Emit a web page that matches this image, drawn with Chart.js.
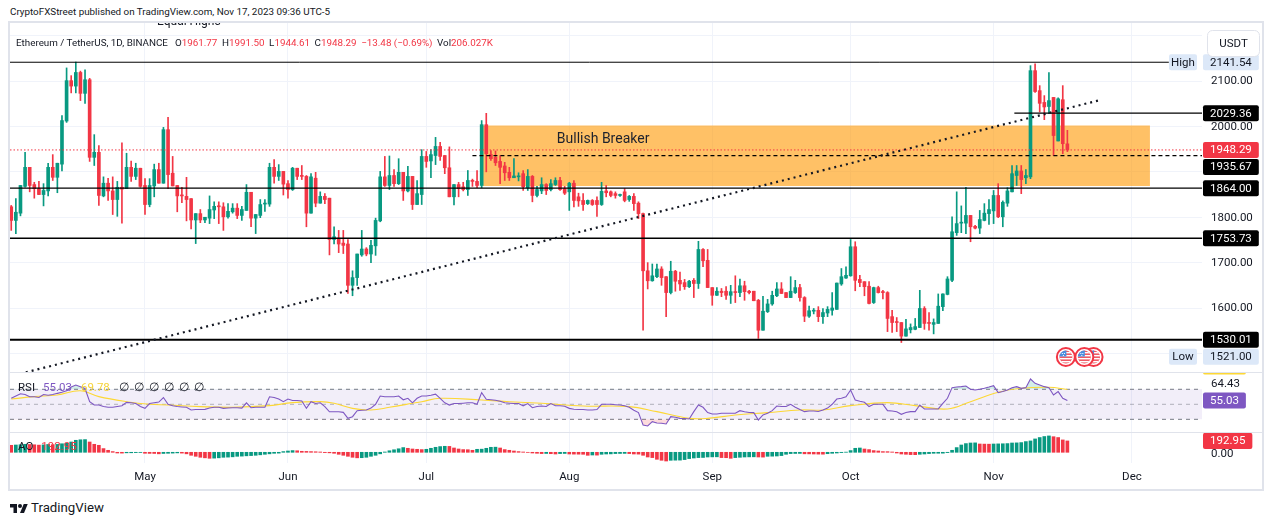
<!DOCTYPE html>
<html>
<head>
<meta charset="utf-8">
<title>Ethereum / TetherUS, 1D</title>
<script src="https://cdn.jsdelivr.net/npm/chart.js@4.4.1/dist/chart.umd.min.js"></script>
<style>
  html, body { margin: 0; padding: 0; background: #fff; }
  body { width: 1273px; height: 526px; position: relative; overflow: hidden; font-family: Roboto, "Noto Sans", sans-serif; color: #131722; }
  .abs { position: absolute; white-space: nowrap; line-height: 1; }
  .mid { transform: translateY(-50%); }
  .pane { position: absolute; left: 10px; width: 1252px; }
  .sep { position: absolute; left: 10px; width: 1252px; height: 1px; background: #E0E3EB; }
  .red { color: #F23645; }
  .leg span.g { margin-left: 4.5px; }
  .leg span.n { margin-left: 5px; }
  .over { z-index: 5; pointer-events: none; }
</style>
</head>
<body>
<div class="abs mid" id="head" style="left:10px;top:12px;font-size:12px">CryptoFXStreet published on TradingView.com, Nov 17, 2023 09:36 UTC-5</div>
<div class="abs" style="left:8px;top:21px;width:1252px;height:466px;border:2px solid #E0E3EB"></div>

<div class="pane" style="top:23px;height:349px"><canvas id="main"></canvas></div>
<div class="sep" style="top:372px"></div>
<div class="pane" style="top:373px;height:59px"><canvas id="rsi"></canvas></div>
<div class="sep" style="top:432px"></div>
<div class="pane" style="top:433px;height:56px"><canvas id="ao"></canvas></div>

<div class="abs over" style="left:157px;top:23px;width:80px;height:5px;overflow:hidden">
  <div class="abs" style="left:0;top:-8px;font-size:12px;color:#131722">Equal Highs</div>
</div>
<div class="abs mid over leg" id="legMain" style="left:16px;top:43px;font-size:12px">
  <span id="sym">Ethereum / TetherUS, 1D, BINANCE</span><span class="g" style="margin-left:7px">O<span class="red">1961.77</span></span><span class="g">H<span class="red">1991.50</span></span><span class="g">L<span class="red">1944.61</span></span><span class="g">C<span class="red">1948.29</span></span><span class="g red">−13.48 (−0.69%)</span><span class="g">Vol<span class="red">206.027K</span></span>
</div>
<div class="abs mid over leg" id="legRsi" style="left:18px;top:388px;font-size:11.5px">
  <span>RSI</span><span class="g" style="margin-left:8px;color:#7E57C2">55.03</span><span class="g" style="margin-left:9px;color:#F5D33A">69.78</span><span class="n" style="margin-left:9px">∅</span><span class="n">∅</span><span class="n">∅</span><span class="n">∅</span><span class="n">∅</span><span class="n">∅</span>
</div>
<div class="abs mid over leg" id="legAo" style="left:18px;top:447px;font-size:11.5px">
  <span>AO</span><span class="g red" style="margin-left:8px">192.95</span>
</div>

<svg class="abs" style="left:10px;top:502px" width="18" height="13" viewBox="0 0 36 26">
  <path d="M14 22H7V11H0V4h14v18z" fill="#131722"/><circle cx="20" cy="8" r="4" fill="#131722"/><path d="M28 22h-8l7.5-18h8L28 22z" fill="#131722"/>
</svg>
<div class="abs mid" id="tv" style="left:31px;top:508px;font-size:13px">TradingView</div>

<script>
// ETH/USDT daily candles, 2 Apr 2023 (index 0) to 17 Nov 2023 (index 229)
const opens = [
  1823,1793,1809,1868,1910,1872,1863,1850,1858,1910, 1888,1917,2012,2101,2089,2119,2073,2103,1932,1943,
  1847,1875,1858,1839,1866,1863,1910,1890,1908,1870, 1828,1869,1905,1875,1993,1897,1870,1848,1846,1841,
  1794,1808,1794,1798,1816,1824,1823,1801,1812,1820, 1804,1815,1855,1798,1804,1829,1829,1910,1890,1901,
  1874,1861,1908,1891,1890,1809,1886,1831,1846,1842, 1751,1754,1743,1741,1650,1667,1717,1730,1719,1737,
  1792,1889,1870,1892,1874,1899,1858,1890,1828,1850, 1934,1924,1936,1956,1936,1909,1845,1872,1867,1861,
  1881,1879,1870,2004,1938,1932,1923,1913,1899,1887, 1889,1896,1865,1890,1848,1858,1872,1861,1872,1881,
  1863,1856,1875,1845,1837,1830,1837,1837,1828,1858, 1856,1852,1848,1856,1839,1846,1831,1808,1682,1660,
  1669,1686,1669,1634,1681,1661,1656,1647,1661,1654, 1729,1705,1645,1628,1637,1637,1628,1636,1634,1649,
  1637,1637,1617,1551,1592,1609,1627,1642,1634,1623, 1634,1645,1623,1582,1593,1595,1581,1589,1595,1597,
  1653,1666,1671,1735,1663,1658,1648,1612,1645,1635, 1634,1581,1570,1568,1538,1552,1553,1557,1599,1568,
  1564,1566,1603,1630,1661,1766,1787,1787,1804,1780, 1776,1793,1808,1814,1848,1801,1831,1856,1892,1902,
  1887,1889,2123,2079,2053,2044,2064,1968,2059,1961.77
];
const highs = [
  1826,1841,1870,1943,1910,1877,1879,1874,1919,1938, 1919,2024,2129,2112,2142,2122,2125,2106,1982,1958,
  1889,1886,1889,1879,1964,1941,1924,1919,1908,1885, 1885,1917,1919,1998,2020,1934,1870,1866,1888,1841,
  1808,1817,1800,1847,1834,1834,1832,1830,1830,1830, 1824,1872,1855,1806,1839,1839,1919,1927,1916,1901,
  1881,1910,1908,1914,1892,1896,1899,1856,1852,1842, 1779,1771,1771,1751,1682,1719,1771,1733,1749,1798,
  1901,1934,1935,1905,1929,1899,1912,1890,1881,1949, 1945,1949,1976,1965,1936,1955,1872,1877,1877,1903,
  1884,1903,2013,2029,1947,1946,1936,1921,1910,1929, 1898,1903,1905,1892,1868,1887,1874,1883,1887,1888,
  1868,1877,1881,1853,1852,1838,1839,1845,1877,1870, 1858,1856,1851,1863,1848,1852,1834,1809,1700,1697,
  1697,1691,1669,1703,1683,1679,1663,1661,1665,1747, 1731,1729,1645,1645,1643,1647,1650,1671,1664,1659,
  1639,1637,1619,1626,1619,1637,1656,1656,1634,1669, 1661,1652,1625,1604,1599,1603,1599,1603,1634,1655,
  1687,1691,1751,1746,1672,1658,1658,1646,1648,1639, 1636,1595,1579,1568,1575,1565,1577,1639,1603,1590,
  1576,1631,1631,1669,1801,1856,1825,1866,1804,1782, 1815,1830,1839,1859,1874,1836,1865,1914,1914,1914,
  1905,2134,2138,2090,2068,2119,2064,2063,2090,1991.50
];
const lows = [
  1771,1764,1803,1866,1856,1842,1850,1825,1847,1881, 1854,1902,2009,2074,2074,2057,2051,1923,1914,1826,
  1845,1837,1806,1802,1787,1863,1879,1883,1866,1806, 1823,1845,1875,1875,1863,1869,1812,1832,1792,1774,
  1742,1788,1788,1786,1797,1786,1771,1798,1809,1797, 1793,1815,1779,1764,1799,1813,1824,1875,1881,1849,
  1842,1859,1883,1883,1779,1809,1823,1831,1830,1717, 1741,1722,1720,1632,1627,1650,1714,1715,1700,1716,
  1790,1868,1861,1868,1872,1837,1856,1817,1828,1828, 1910,1887,1916,1925,1896,1845,1827,1845,1858,1848,
  1868,1865,1865,1900,1925,1914,1874,1881,1881,1887, 1880,1859,1859,1834,1845,1852,1850,1858,1870,1859,
  1850,1815,1823,1824,1815,1828,1826,1802,1826,1845, 1845,1842,1846,1834,1835,1815,1797,1551,1642,1659,
  1667,1650,1581,1631,1637,1639,1641,1645,1623,1643, 1691,1645,1606,1628,1625,1619,1610,1612,1625,1617,
  1631,1616,1533,1551,1590,1606,1625,1632,1623,1623, 1632,1615,1570,1579,1587,1570,1566,1581,1584,1597,
  1650,1665,1670,1638,1647,1627,1609,1610,1633,1620, 1548,1546,1548,1524,1538,1545,1552,1557,1553,1551,
  1543,1566,1594,1629,1658,1760,1766,1764,1746,1774, 1764,1792,1784,1786,1799,1779,1824,1856,1870,1852,
  1874,1885,2075,2032,2015,2028,1936,1968,1940,1944.61
];
const closes = [
  1793,1811,1870,1910,1870,1863,1850,1859,1910,1888, 1919,2013,2101,2089,2119,2073,2103,1932,1943,1848,
  1875,1858,1839,1866,1862,1910,1890,1908,1868,1828, 1870,1905,1875,1993,1894,1869,1847,1847,1839,1794,
  1808,1794,1800,1817,1824,1823,1801,1813,1820,1804, 1817,1855,1798,1806,1828,1830,1910,1890,1901,1873,
  1861,1908,1890,1890,1809,1889,1831,1846,1839,1751, 1757,1741,1738,1650,1667,1719,1730,1719,1738,1793,
  1889,1870,1892,1874,1899,1858,1890,1828,1852,1934, 1923,1938,1956,1934,1909,1845,1872,1863,1861,1881,
  1879,1870,2004,1940,1929,1920,1910,1898,1887,1891, 1890,1867,1890,1848,1861,1872,1859,1874,1881,1861,
  1853,1875,1837,1836,1828,1837,1828,1828,1857,1854, 1848,1848,1850,1837,1846,1830,1808,1682,1660,1671,
  1686,1667,1634,1681,1659,1653,1647,1659,1654,1729, 1704,1645,1628,1637,1634,1628,1636,1634,1649,1636,
  1634,1616,1551,1593,1609,1628,1642,1632,1623,1637, 1645,1623,1582,1594,1595,1581,1590,1597,1600,1655,
  1669,1672,1735,1661,1656,1647,1610,1645,1634,1634, 1577,1568,1568,1538,1554,1557,1559,1599,1566,1566,
  1568,1604,1631,1664,1768,1786,1789,1804,1779,1776, 1795,1809,1817,1848,1801,1833,1858,1896,1902,1883,
  1892,2123,2077,2051,2043,2057,1980,2061,1962,1948.29
];

// RSI (14) per candle, and its moving average read at a few points
const rsiValues = [
  58,61,64,63,60,60,59,63,62,63, 64.6,66,68,73,75.7,73.5,71,53.5,49,49,
  47,46,46,47,48,52.6,52,51,47,44.6, 51,52,53,59,50,48,47,46.5,46,42.4,
  43,43,43.3,45,46,46,44.6,45,45.5,45.5, 45,52,45.5,46,46,46,60,59,57,53.5,
  57,55,55,54.5,44.6,53.5,51,52,47,40, 40,40,39.3,31.3,33.5,41.5,42,42.4,45,50,
  61,60,60,60,61,56,58,52,58,61, 61,62,63.5,58,52,49,51,51,51.5,52,
  52,50,65.5,56.6,56,55.5,54,52,51.5,51, 51,48,51,45.5,47,47.7,47,51,48,48,
  47.5,44.6,43.5,43,43,42.5,42.4,43,50,50, 50,49.5,49,48,46,42,39,22.4,21.1,26.9,
  25,24.7,23.8,33.5,32.7,31.3,31,30.4,40.2,49, 46,38.9,37,37,38,38,38,38,41.5,40,
  39,38.9,29.1,35.8,38,41.5,47.7,47,47,50, 46,43,40.2,41,41,40.5,42.5,45,50,57,
  58,60,69,55.8,54,52.7,47,50,50,50, 41.6,41,40,36.7,39,40.2,40.2,49,43.8,43.8,
  43.8,43.8,51.3,58,72.2,73,73.5,74.4,70,69.1, 70,71.3,73,74.9,65.5,67,69,72,73.5,71.3,
  72.2,83.7,78,75.8,73.5,72.2,62.4,66.9,58,55.03
];
const rsiMaIdx = [0,5,10,15,19,25,30,34,41,48,56,61,67,70,74,78,82,87,89,93,102,108,115,124,134,140,147,151,157,164,171,176,182,190,196,203,208,214,219,225,229];
const rsiMaValues = [57.1,60.2,62.4,68,60.2,53.5,50,49.1,46.9,46,48.2,52.2,53.5,51.3,44.6,42.4,46,51.3,53.5,58,55.7,53.5,51.3,47.7,46.9,40.2,31.3,31.3,35.8,38.9,42.4,42.5,48.2,52.2,48.2,43.8,53.5,66,71.3,72.7,69.78];

// Awesome Oscillator per candle
const aoValues = [
  119,124,129,136,133,128,122,126,133,129, 134,145,153,175,204,213,216,175,136,119,
  63,34,12,-12,-14,-9,-8,-5,-3,-17, -19,-20,-26,-20,-17,-14,-10,-14,-26,-51,
  -68,-85,-94,-102,-99,-94,-85,-82,-77,-68, -65,-60,-56,-51,-43,-34,-26,-17,-14,12,
  22,29,26,17,15,12,9,5,-5,-9, -17,-34,-51,-68,-85,-94,-92,-85,-68,-51,
  -26,5,26,43,60,80,68,56,51,46, 51,68,85,97,102,100,73,56,46,44,
  34,51,53,68,85,87,73,46,34,22, 12,5,-2,-12,-17,-22,-20,-24,-29,-22,
  -20,-29,-31,-32,-34,-51,-46,-48,-34,-29, -27,-22,-20,-19,-22,-29,-31,-51,-80,-90,
  -119,-136,-148,-136,-134,-133,-124,-107,-97,-90, -88,-80,-78,-77,-90,-92,-102,-90,-85,-80,
  -78,-77,-80,-82,-68,-66,-63,-56,-34,-22, -20,-19,-26,-27,-29,-31,-32,-24,-17,-12,
  -5,3,29,68,73,56,46,29,22,12, 11,5,-12,-29,-34,-39,-40,-34,-29,-22,
  -17,-16,-15,-5,34,80,124,148,158,160, 141,139,138,141,143,145,148,158,160,165,
  182,193,227,251,268,278,265,251,210,192.95
];

// x axis: first day of each month as candle index
const monthIdx = [29, 60, 90, 121, 152, 182, 213, 243];
const monthLabels = ['May', 'Jun', 'Jul', 'Aug', 'Sep', 'Oct', 'Nov', 'Dec'];

// drawings on the price pane
const highLevel = 2141.54;
const lowLevel = 1521.00;
const lastClose = 1948.29;
const resistLevel = 2029.36, resistFrom = 217.5;
const breakerLevel = 1935.67, breakerFrom = 100;
const supportLevels = [1864.00, 1753.73, 1530.01];
const boxFrom = 102.3, boxTo = 246.9, boxTop = 2002, boxBottom = 1869;
const trendStart = [1.9, 1455], trendEnd = [236, 2058];
const eventIdx = [235, 233, 229];
const rsiBands = [70, 50, 30];
const rsiMa = 69.78, rsiOther = 64.43;

const X_MIN = -0.27, X_MAX = 258.19;
const UP = '#089981', DOWN = '#F23645';
const GRID = '#F0F3FA';
const FONT = 'Roboto, "Noto Sans", sans-serif';
Chart.defaults.font.family = FONT;
Chart.defaults.font.size = 11.5;
Chart.defaults.color = '#131722';

const idx = opens.map((_, i) => i);
const candleColor = idx.map(i => closes[i] >= opens[i] ? UP : DOWN);
const aoColor = aoValues.map((v, i) => i === 0 ? DOWN : (v > aoValues[i - 1] ? UP : DOWN));

function xScale(showTicks) {
  return {
    type: 'linear', min: X_MIN, max: X_MAX, offset: false,
    grid: { color: GRID, drawTicks: false, offset: false },
    border: { display: false },
    ticks: {
      display: showTicks, autoSkip: false, maxRotation: 0, padding: 7,
      callback: v => { const k = monthIdx.indexOf(v); return k >= 0 ? monthLabels[k] : ''; }
    },
    afterBuildTicks: s => { s.ticks = monthIdx.map(v => ({ value: v })); },
    afterFit: s => { s.height = showTicks ? 26 : 0; }
  };
}
function yScale(min, max, step, grid) {
  return {
    type: 'linear', position: 'right', min: min, max: max, beginAtZero: false,
    grid: { display: grid, color: GRID, drawTicks: false },
    border: { display: false },
    ticks: { display: false, stepSize: step, includeBounds: false },
    afterFit: s => { s.width = 60; s.paddingTop = 0; s.paddingBottom = 0; }
  };
}
function span(y, from, to) {
  return [{ x: from, y: y }, { x: to, y: y }];
}
function lineSet(data, color, width, dash, order) {
  return { type: 'line', data: data, borderColor: color, borderWidth: width, borderDash: dash || [],
           pointRadius: 0, fill: false, tension: 0, order: order };
}
function tagBox(ctx, x, cy, text, bg, fg) {
  const w = ctx.measureText(text).width + 14;
  if (bg) {
    ctx.fillStyle = bg;
    ctx.beginPath(); ctx.roundRect(x, cy - 8, w, 16, 2); ctx.fill();
  }
  ctx.fillStyle = fg;
  ctx.textAlign = bg ? 'center' : 'left';
  ctx.fillText(text, bg ? x + w / 2 : x + 8, cy + 0.5);
}

// price pane: axis texts, price tags, labels
const priceTags = [
  { v: highLevel, t: '2141.54', bg: '#DCE8F8', fg: '#131722', tag: 'High' },
  { v: resistLevel, t: '2029.36', bg: '#000', fg: '#fff' },
  { v: lastClose, t: '1948.29', bg: '#F23645', fg: '#fff' },
  { v: breakerLevel, t: '1935.67', bg: '#000', fg: '#fff' },
  { v: supportLevels[0], t: '1864.00', bg: '#000', fg: '#fff' },
  { v: supportLevels[1], t: '1753.73', bg: '#000', fg: '#fff' },
  { v: supportLevels[2], t: '1530.01', bg: '#000', fg: '#fff' },
  { v: lowLevel, t: '1521.00', bg: '#DCE8F8', fg: '#131722', tag: 'Low' }
];
function drawFlag(ctx, cx, cy) {
  ctx.beginPath(); ctx.arc(cx, cy, 9, 0, Math.PI * 2);
  ctx.fillStyle = '#fff'; ctx.fill();
  ctx.lineWidth = 2; ctx.strokeStyle = '#F23645'; ctx.stroke();
  ctx.save(); ctx.beginPath(); ctx.arc(cx, cy, 6.5, 0, Math.PI * 2); ctx.clip();
  ctx.fillStyle = '#EF5A66'; ctx.fillRect(cx - 7, cy - 7, 14, 14);
  ctx.fillStyle = '#fff'; for (let s = -5; s < 7; s += 3) ctx.fillRect(cx - 7, cy + s, 14, 1.4);
  ctx.fillStyle = '#4A8FE0'; ctx.fillRect(cx - 7, cy - 7, 7.5, 6.5);
  ctx.fillStyle = '#fff'; ctx.fillRect(cx - 4, cy - 4, 1, 1); ctx.fillRect(cx - 2, cy - 4, 1, 1); ctx.fillRect(cx - 3, cy - 2, 1, 1);
  ctx.restore();
}
const mainLabels = {
  id: 'mainLabels',
  afterDraw(chart) {
    const { ctx, chartArea: a, scales: { x, y } } = chart;
    ctx.save();
    ctx.font = '11.5px ' + FONT;
    ctx.textBaseline = 'middle';
    const tags = priceTags.map(t => ({ ...t, cy: y.getPixelForValue(t.v) })).sort((p, q) => p.cy - q.cy);
    for (let k = 1; k < tags.length; k++) tags[k].cy = Math.max(tags[k].cy, tags[k - 1].cy + 17);
    ctx.fillStyle = '#131722'; ctx.textAlign = 'left';
    y.ticks.forEach(t => {
      const py = y.getPixelForValue(t.value);
      if (py < a.top + 6 || py > a.bottom - 6) return;
      if (tags.some(g => Math.abs(g.cy - py) < 12)) return;
      ctx.fillText(t.value.toFixed(2), a.right + 9, py + 0.5);
    });
    tags.forEach(g => {
      tagBox(ctx, a.right + 1, g.cy, g.t, g.bg, g.fg);
      if (g.tag) {
        ctx.fillStyle = g.bg;
        ctx.beginPath(); ctx.roundRect(a.right - 33, g.cy - 8, 28, 16, 2); ctx.fill();
        ctx.fillStyle = g.fg; ctx.textAlign = 'center';
        ctx.fillText(g.tag, a.right - 19, g.cy + 0.5);
      }
    });
    // currency button
    ctx.fillStyle = '#fff'; ctx.strokeStyle = '#E0E3EB'; ctx.lineWidth = 1;
    ctx.beginPath(); ctx.roundRect(a.right + 5.5, a.top + 7.5, 52, 26, 5); ctx.fill(); ctx.stroke();
    ctx.fillStyle = '#131722'; ctx.textAlign = 'center';
    ctx.fillText('USDT', a.right + 31.5, a.top + 21);
    // zone label
    ctx.font = '14px ' + FONT; ctx.textAlign = 'left'; ctx.fillStyle = '#1E222D';
    ctx.fillText('Bullish Breaker', x.getPixelForValue(118.3), y.getPixelForValue(1972));
    // economic event markers
    eventIdx.forEach(i => drawFlag(ctx, x.getPixelForValue(i) - 1.5, a.bottom - 15));
    ctx.restore();
  }
};

new Chart(document.getElementById('main'), {
  type: 'bar',
  data: {
    datasets: [
      lineSet([{ x: trendStart[0], y: trendStart[1] }, { x: trendEnd[0], y: trendEnd[1] }], '#131722', 2.2, [2, 4], 1),
      lineSet(span(highLevel, X_MIN, 251), '#000', 1, null, 2),
      lineSet(span(resistLevel, resistFrom, X_MAX), '#000', 1.3, null, 2),
      lineSet(span(breakerLevel, breakerFrom, X_MAX), '#000', 1.2, [4, 3], 2),
      lineSet(span(supportLevels[0], X_MIN, X_MAX), '#000', 1.3, null, 2),
      lineSet(span(supportLevels[1], X_MIN, X_MAX), '#000', 1.3, null, 2),
      lineSet(span(supportLevels[2], X_MIN, X_MAX), '#000', 2.2, null, 2),
      lineSet(span(lastClose, X_MIN, X_MAX), '#F23645', 1, [1.5, 2], 3),
      { type: 'bar', data: idx.map(i => ({ x: i, y: [opens[i], closes[i]] })), backgroundColor: candleColor,
        barThickness: 3, minBarLength: 1, grouped: false, borderWidth: 0, order: 5 },
      { type: 'bar', data: idx.map(i => ({ x: i, y: [lows[i], highs[i]] })), backgroundColor: candleColor,
        barThickness: 1, grouped: false, borderWidth: 0, order: 6 },
      { type: 'line', data: span(boxTop, boxFrom, boxTo), borderColor: 'transparent', borderWidth: 1,
        pointRadius: 0, fill: { target: { value: boxBottom } }, backgroundColor: 'rgba(255,152,0,0.6)', order: 10 }
    ]
  },
  options: {
    responsive: true, maintainAspectRatio: false, animation: false,
    layout: { padding: 0 },
    plugins: { legend: { display: false }, tooltip: { enabled: false } },
    scales: { x: xScale(false), y: yScale(1459, 2228, 100, true) }
  },
  plugins: [mainLabels]
});

// RSI pane
const rsiLabels = {
  id: 'rsiLabels',
  afterDraw(chart) {
    const { ctx, chartArea: a, scales: { y } } = chart;
    ctx.save();
    ctx.font = '11.5px ' + FONT; ctx.textBaseline = 'middle';
    const lastRsi = rsiValues[rsiValues.length - 1];
    const tags = [
      { v: rsiMa, t: rsiMa.toFixed(2), bg: '#FDD835', fg: '#131722' },
      { v: rsiOther, t: rsiOther.toFixed(2), bg: null, fg: '#131722' },
      { v: lastRsi, t: lastRsi.toFixed(2), bg: '#7E57C2', fg: '#fff' }
    ].map(t => ({ ...t, cy: y.getPixelForValue(t.v) })).sort((p, q) => q.cy - p.cy);
    for (let k = 1; k < tags.length; k++) tags[k].cy = Math.min(tags[k].cy, tags[k - 1].cy - 17);
    tags.forEach(g => tagBox(ctx, a.right + 1, g.cy, g.t, g.bg, g.fg));
    ctx.restore();
  }
};
new Chart(document.getElementById('rsi'), {
  type: 'line',
  data: {
    datasets: [
      lineSet(idx.map(i => ({ x: i, y: rsiValues[i] })), '#7E57C2', 1.1, null, 1),
      { ...lineSet(rsiMaIdx.map((v, k) => ({ x: v, y: rsiMaValues[k] })), '#FDD835', 1.1, null, 2), tension: 0.4 },
      { data: idx.map(i => ({ x: i, y: rsiValues[i] })), borderColor: 'transparent', borderWidth: 1, pointRadius: 0,
        fill: { target: { value: 30 }, above: 'transparent', below: 'rgba(242,54,69,0.18)' }, order: 5 },
      { data: idx.map(i => ({ x: i, y: rsiValues[i] })), borderColor: 'transparent', borderWidth: 1, pointRadius: 0,
        fill: { target: { value: 70 }, above: 'rgba(8,153,129,0.18)', below: 'transparent' }, order: 5 },
      { data: span(rsiBands[0], X_MIN, X_MAX), borderColor: '#787B86', borderWidth: 1, borderDash: [4, 4], pointRadius: 0,
        fill: { target: { value: rsiBands[2] } }, backgroundColor: 'rgba(126,87,194,0.1)', order: 10 },
      lineSet(span(rsiBands[1], X_MIN, X_MAX), 'rgba(120,123,134,0.55)', 1, [4, 4], 9),
      lineSet(span(rsiBands[2], X_MIN, X_MAX), '#787B86', 1, [4, 4], 9)
    ]
  },
  options: {
    responsive: true, maintainAspectRatio: false, animation: false,
    layout: { padding: 0 },
    plugins: { legend: { display: false }, tooltip: { enabled: false } },
    scales: { x: xScale(false), y: yScale(13.1, 91.7, 10, false) }
  },
  plugins: [rsiLabels]
});

// AO pane
const aoLabels = {
  id: 'aoLabels',
  afterDraw(chart) {
    const { ctx, chartArea: a, scales: { y } } = chart;
    ctx.save();
    ctx.font = '11.5px ' + FONT; ctx.textBaseline = 'middle';
    tagBox(ctx, a.right + 1, y.getPixelForValue(0) + 1, '0.00', null, '#131722');
    const last = aoValues[aoValues.length - 1];
    tagBox(ctx, a.right + 1, y.getPixelForValue(last), last.toFixed(2), '#F23645', '#fff');
    ctx.restore();
  }
};
new Chart(document.getElementById('ao'), {
  type: 'bar',
  data: {
    datasets: [{ data: idx.map(i => ({ x: i, y: aoValues[i] })), backgroundColor: aoColor,
                 barThickness: 3, borderWidth: 0 }]
  },
  options: {
    responsive: true, maintainAspectRatio: false, animation: false,
    layout: { padding: 0 },
    plugins: { legend: { display: false }, tooltip: { enabled: false } },
    scales: { x: xScale(true), y: yScale(-182, 328, 100, false) }
  },
  plugins: [aoLabels]
});

// match text widths of the published snapshot
function fit(el, w) {
  const r = el.getBoundingClientRect().width;
  const fs = parseFloat(getComputedStyle(el).fontSize);
  el.style.fontSize = (fs * w / r).toFixed(2) + 'px';
}
fit(document.getElementById('head'), 320);
fit(document.getElementById('tv'), 73);
const sym = document.getElementById('sym');
const symW = sym.getBoundingClientRect().width;
const legMain = document.getElementById('legMain');
legMain.style.fontSize = (parseFloat(getComputedStyle(legMain).fontSize) * 152 / symW).toFixed(2) + 'px';
</script>
</body>
</html>
